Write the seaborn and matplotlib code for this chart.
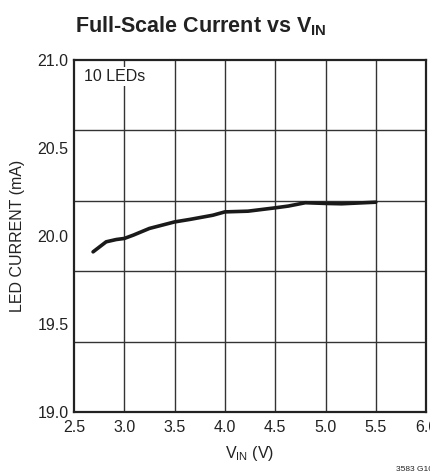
import seaborn as sns
import pandas as pd
import matplotlib.pyplot as plt

# Values
vin = [2.69, 2.82, 2.92, 3.0, 3.09, 3.25, 3.5, 3.65, 3.88, 4.0, 4.23, 4.5, 4.63, 4.8, 5.0, 5.16, 5.5]
current = [19.91, 19.967, 19.98, 19.986, 20.005, 20.043, 20.08, 20.094, 20.118, 20.137, 20.141,
           20.16, 20.17, 20.189, 20.185, 20.183, 20.192]

x_ticks = [2.5, 3.0, 3.5, 4.0, 4.5, 5.0, 5.5, 6.0]
y_ticks = [19.0, 19.5, 20.0, 20.5, 21.0]
y_grid = [19.4, 19.8, 20.2, 20.6]

df = pd.DataFrame({'vin': vin, 'current': current})

sns.set_style('white')
plt.rcParams['font.family'] = ['Liberation Sans', 'DejaVu Sans']
plt.rcParams['mathtext.fontset'] = 'custom'
plt.rcParams['mathtext.rm'] = 'Liberation Sans'
plt.rcParams['mathtext.bf'] = 'Liberation Sans:bold'

fig = plt.figure(figsize=(4.3, 4.72), dpi=100)
ax = fig.add_axes([0.172, 0.127, 0.819, 0.746])

# grid: vertical at every x tick, horizontal every 0.4 mA
for x in x_ticks[1:-1]:
    ax.axvline(x, color='#333333', lw=1.0, zorder=1)
for y in y_grid:
    ax.axhline(y, color='#333333', lw=1.0, zorder=1)

sns.lineplot(data=df, x='vin', y='current', color='#1a1a1a', lw=2.6, ax=ax, zorder=3)

ax.set_xlim(2.5, 6.0)
ax.set_ylim(19.0, 21.0)
ax.set_xticks(x_ticks)
ax.set_yticks(y_ticks)
ax.set_xticklabels([f'{v:.1f}' for v in x_ticks])
ax.set_yticklabels([f'{v:.1f}' for v in y_ticks])
ax.tick_params(axis='x', length=0, labelsize=11.5, pad=6, colors='#222222')
ax.tick_params(axis='y', length=0, labelsize=11.5, pad=4, colors='#222222')
for s in ax.spines.values():
    s.set_color('#222222')
    s.set_linewidth(1.6)

ax.set_xlabel(r'V$_{\mathrm{IN}}$ (V)', fontsize=11.5, color='#222222', labelpad=6)
ax.set_ylabel('LED CURRENT (mA)', fontsize=11.5, color='#222222', labelpad=9)

ax.text(2.6, 20.88, '10 LEDs', fontsize=11.5, color='#222222', zorder=4,
        bbox=dict(facecolor='white', edgecolor='none', pad=1.5))

fig.text(0.468, 0.945, r'Full-Scale Current vs V$_{\mathbf{IN}}$', ha='center', va='center',
         fontsize=15.5, fontweight='bold', color='#222222')
fig.text(0.92, 0.006, '3583 G10', fontsize=6, color='#222222', va='center')

fig.savefig('out.png', dpi=100)
